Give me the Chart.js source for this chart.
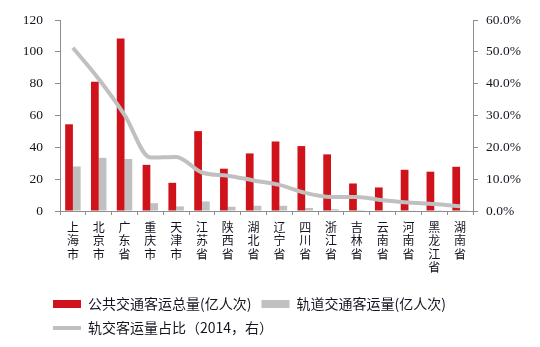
<!DOCTYPE html>
<html>
<head>
<meta charset="utf-8">
<script src="https://cdn.jsdelivr.net/npm/chart.js@4.4.1/dist/chart.umd.min.js"></script>
<style>
  html, body { margin: 0; padding: 0; background: #fff; }
  #wrap { width: 540px; height: 347px; }
</style>
</head>
<body>
<div id="wrap"><canvas id="myChart" width="540" height="347"></canvas></div>
<script>
// provinces / cities, one character per line so they read top to bottom
var cities = ["上海市", "北京市", "广东省", "重庆市", "天津市", "江苏省", "陕西省", "湖北省",
              "辽宁省", "四川省", "浙江省", "吉林省", "云南省", "河南省", "黑龙江省", "湖南省"]

// 公共交通客运总量 (亿人次)
var publicTotal = [54.5, 81.3, 108.5, 29.0, 17.7, 50.2, 26.6, 36.2,
                   43.7, 40.8, 35.6, 17.3, 14.8, 25.9, 24.7, 27.8]

// 轨道交通客运量 (亿人次)
var railTotal = [28.0, 33.4, 32.7, 4.9, 2.9, 6.0, 2.7, 3.3,
                 3.3, 1.9, 1.2, 0.6, 0.2, 0.2, 0.1, 0.1]

// 轨交客运量占比, percent
var railShare = [51.3, 41.5, 30.2, 16.8, 17.0, 12.1, 11.1, 9.6,
                 8.2, 5.7, 4.4, 4.4, 3.4, 2.7, 2.2, 1.5]

var leftTicks = [0, 20, 40, 60, 80, 100, 120]
var rightTicks = [0, 10, 20, 30, 40, 50, 60]

const RED = "#d0121b"
const GREY = "#c0c0c0"
const AXIS = "#8e8e8e"
const TEXT = "#141420"

var serif = { family: "'Liberation Serif', 'DejaVu Serif', serif", size: 13.5 }
var cjk = "'Noto Sans CJK SC', sans-serif"

// legend rows start under the plot, not at the canvas edge
var legendShift = {
    id: 'legendShift',
    afterLayout: function (chart) {
        chart.legend.left += 43
        chart.legend.right += 43
    }
}

function makeChart() {
    var ctx = document.getElementById('myChart').getContext('2d')
    var chart = new Chart(ctx, {
        data: {
            labels: cities.map(function (c) { return c.split("") }),
            datasets: [{
                type: 'bar',
                label: '公共交通客运总量(亿人次)',
                data: publicTotal,
                backgroundColor: RED,
                yAxisID: 'y',
                order: 1,
                categoryPercentage: 0.6,
                barPercentage: 1.0
            }, {
                type: 'bar',
                label: '轨道交通客运量(亿人次)',
                data: railTotal,
                backgroundColor: GREY,
                yAxisID: 'y',
                order: 1,
                categoryPercentage: 0.6,
                barPercentage: 1.0
            }, {
                type: 'line',
                label: '轨交客运量占比（2014，右）',
                data: railShare,
                borderColor: GREY,
                backgroundColor: GREY,
                borderWidth: 4,
                pointRadius: 0,
                cubicInterpolationMode: 'monotone',
                yAxisID: 'y1',
                order: 0
            }]
        },
        options: {
            responsive: false,
            animation: false,
            layout: { padding: { left: 0, right: 0, top: 17, bottom: 2 } },
            plugins: {
                tooltip: { enabled: false },
                legend: {
                    position: 'bottom',
                    align: 'start',
                    labels: {
                        usePointStyle: true,
                        pointStyleWidth: 28,
                        boxHeight: 8,
                        padding: 10,
                        color: TEXT,
                        font: { family: cjk, size: 14 },
                        generateLabels: function (c) {
                            return c.data.datasets.map(function (ds, i) {
                                var isLine = ds.type === 'line'
                                return {
                                    text: ds.label,
                                    fillStyle: ds.backgroundColor,
                                    strokeStyle: isLine ? ds.borderColor : ds.backgroundColor,
                                    lineWidth: isLine ? 4 : 0,
                                    pointStyle: isLine ? 'line' : 'rect',
                                    fontColor: TEXT,
                                    hidden: false,
                                    datasetIndex: i
                                }
                            })
                        }
                    }
                }
            },
            scales: {
                x: {
                    offset: true,
                    grid: { display: true, drawOnChartArea: false, tickLength: 4, color: AXIS, offset: true },
                    border: { color: AXIS, width: 1 },
                    ticks: {
                        color: TEXT,
                        maxRotation: 0,
                        autoSkip: false,
                        padding: 6,
                        font: { family: cjk, size: 12, lineHeight: 1.1 }
                    },
                    afterFit: function (s) { s.height = 76 }
                },
                y: {
                    position: 'left',
                    min: 0,
                    max: 120,
                    afterBuildTicks: function (s) { s.ticks = leftTicks.map(function (v) { return { value: v } }) },
                    grid: { drawOnChartArea: false, tickLength: 5, color: AXIS },
                    border: { color: AXIS, width: 1 },
                    ticks: { color: TEXT, padding: 12, font: serif },
                    afterFit: function (s) { s.width = 60 }
                },
                y1: {
                    position: 'right',
                    min: 0,
                    max: 60,
                    afterBuildTicks: function (s) { s.ticks = rightTicks.map(function (v) { return { value: v } }) },
                    grid: { drawOnChartArea: false, tickLength: 5, color: AXIS },
                    border: { color: AXIS, width: 1 },
                    ticks: {
                        color: TEXT,
                        padding: 8,
                        font: serif,
                        callback: function (v) { return v.toFixed(1) + '%' }
                    },
                    afterFit: function (s) { s.width = 67 }
                }
            }
        },
        plugins: [legendShift]
    })
    return chart
}

makeChart()
</script>
</body>
</html>
